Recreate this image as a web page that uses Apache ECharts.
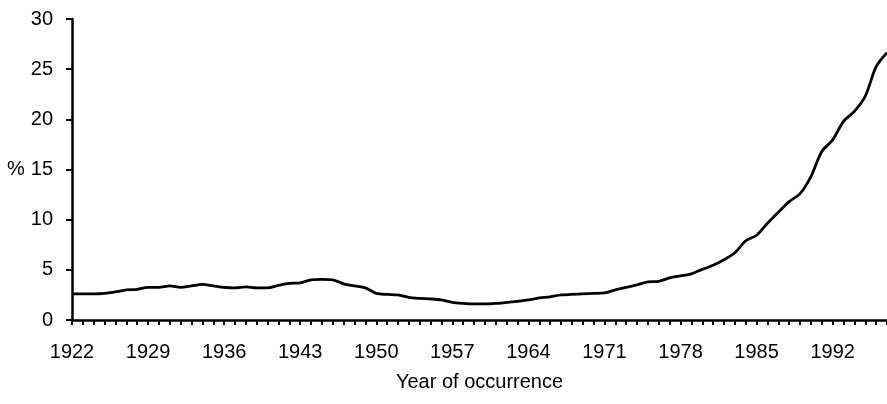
<!DOCTYPE html>
<html>
<head>
<meta charset="utf-8">
<script src="https://cdn.jsdelivr.net/npm/echarts@6/dist/echarts.min.js"></script>
<style>
html,body{margin:0;padding:0;background:#fff;}
#chart{width:887px;height:404px;}
</style>
</head>
<body>
<div id="chart"></div>
<script>
const years = [];
for (let y = 1922; y <= 1997; y++) years.push(String(y));
const percent = [
  2.6, 2.6, 2.6, 2.65, 2.8, 3.0, 3.05, 3.25, 3.25, 3.4,
  3.25, 3.4, 3.55, 3.4, 3.25, 3.2, 3.3, 3.2, 3.2, 3.45,
  3.65, 3.7, 4.0, 4.05, 4.0, 3.6, 3.4, 3.2, 2.65, 2.55,
  2.5, 2.25, 2.15, 2.1, 2.0, 1.75, 1.65, 1.6, 1.6, 1.65,
  1.75, 1.85, 2.0, 2.2, 2.3, 2.5, 2.55, 2.6, 2.65, 2.7,
  3.0, 3.25, 3.5, 3.8, 3.85, 4.2, 4.4, 4.6, 5.05, 5.45,
  6.0, 6.7, 7.9, 8.45, 9.65, 10.75, 11.8, 12.6, 14.3, 16.8,
  17.95, 19.8, 20.8, 22.3, 25.25, 26.65
];
const yTicks = [0, 5, 10, 15, 20, 25, 30];

const chart = echarts.init(document.getElementById('chart'));
const font = 'Liberation Sans, Arial, sans-serif';
chart.setOption({
  animation: false,
  backgroundColor: '#fff',
  grid: {left: 72, right: 0, top: 19, bottom: 84},
  xAxis: {
    type: 'category',
    data: years,
    boundaryGap: false,
    name: 'Year of occurrence',
    nameLocation: 'middle',
    nameGap: 52,
    nameTextStyle: {color: '#000', fontSize: 20, fontFamily: font},
    axisLine: {lineStyle: {color: '#000', width: 2.5}},
    axisTick: {interval: 0, length: 5, lineStyle: {color: '#000', width: 2}},
    axisLabel: {interval: 6, color: '#000', fontSize: 20, fontFamily: font, margin: 22},
    splitLine: {show: false}
  },
  yAxis: {
    type: 'value',
    min: yTicks[0],
    max: yTicks[yTicks.length - 1],
    interval: 5,
    name: '%',
    nameLocation: 'middle',
    nameRotate: 0,
    nameGap: 46,
    nameTextStyle: {color: '#000', fontSize: 20, fontFamily: font},
    axisLine: {show: true, lineStyle: {color: '#000', width: 2.5}},
    axisTick: {show: true, length: 6, lineStyle: {color: '#000', width: 2}},
    axisLabel: {color: '#000', fontSize: 20, fontFamily: font, margin: 19},
    splitLine: {show: false}
  },
  series: [{
    type: 'line',
    data: percent,
    smooth: 0.3,
    symbol: 'none',
    lineStyle: {color: '#000', width: 2.8}
  }]
});
</script>
</body>
</html>
